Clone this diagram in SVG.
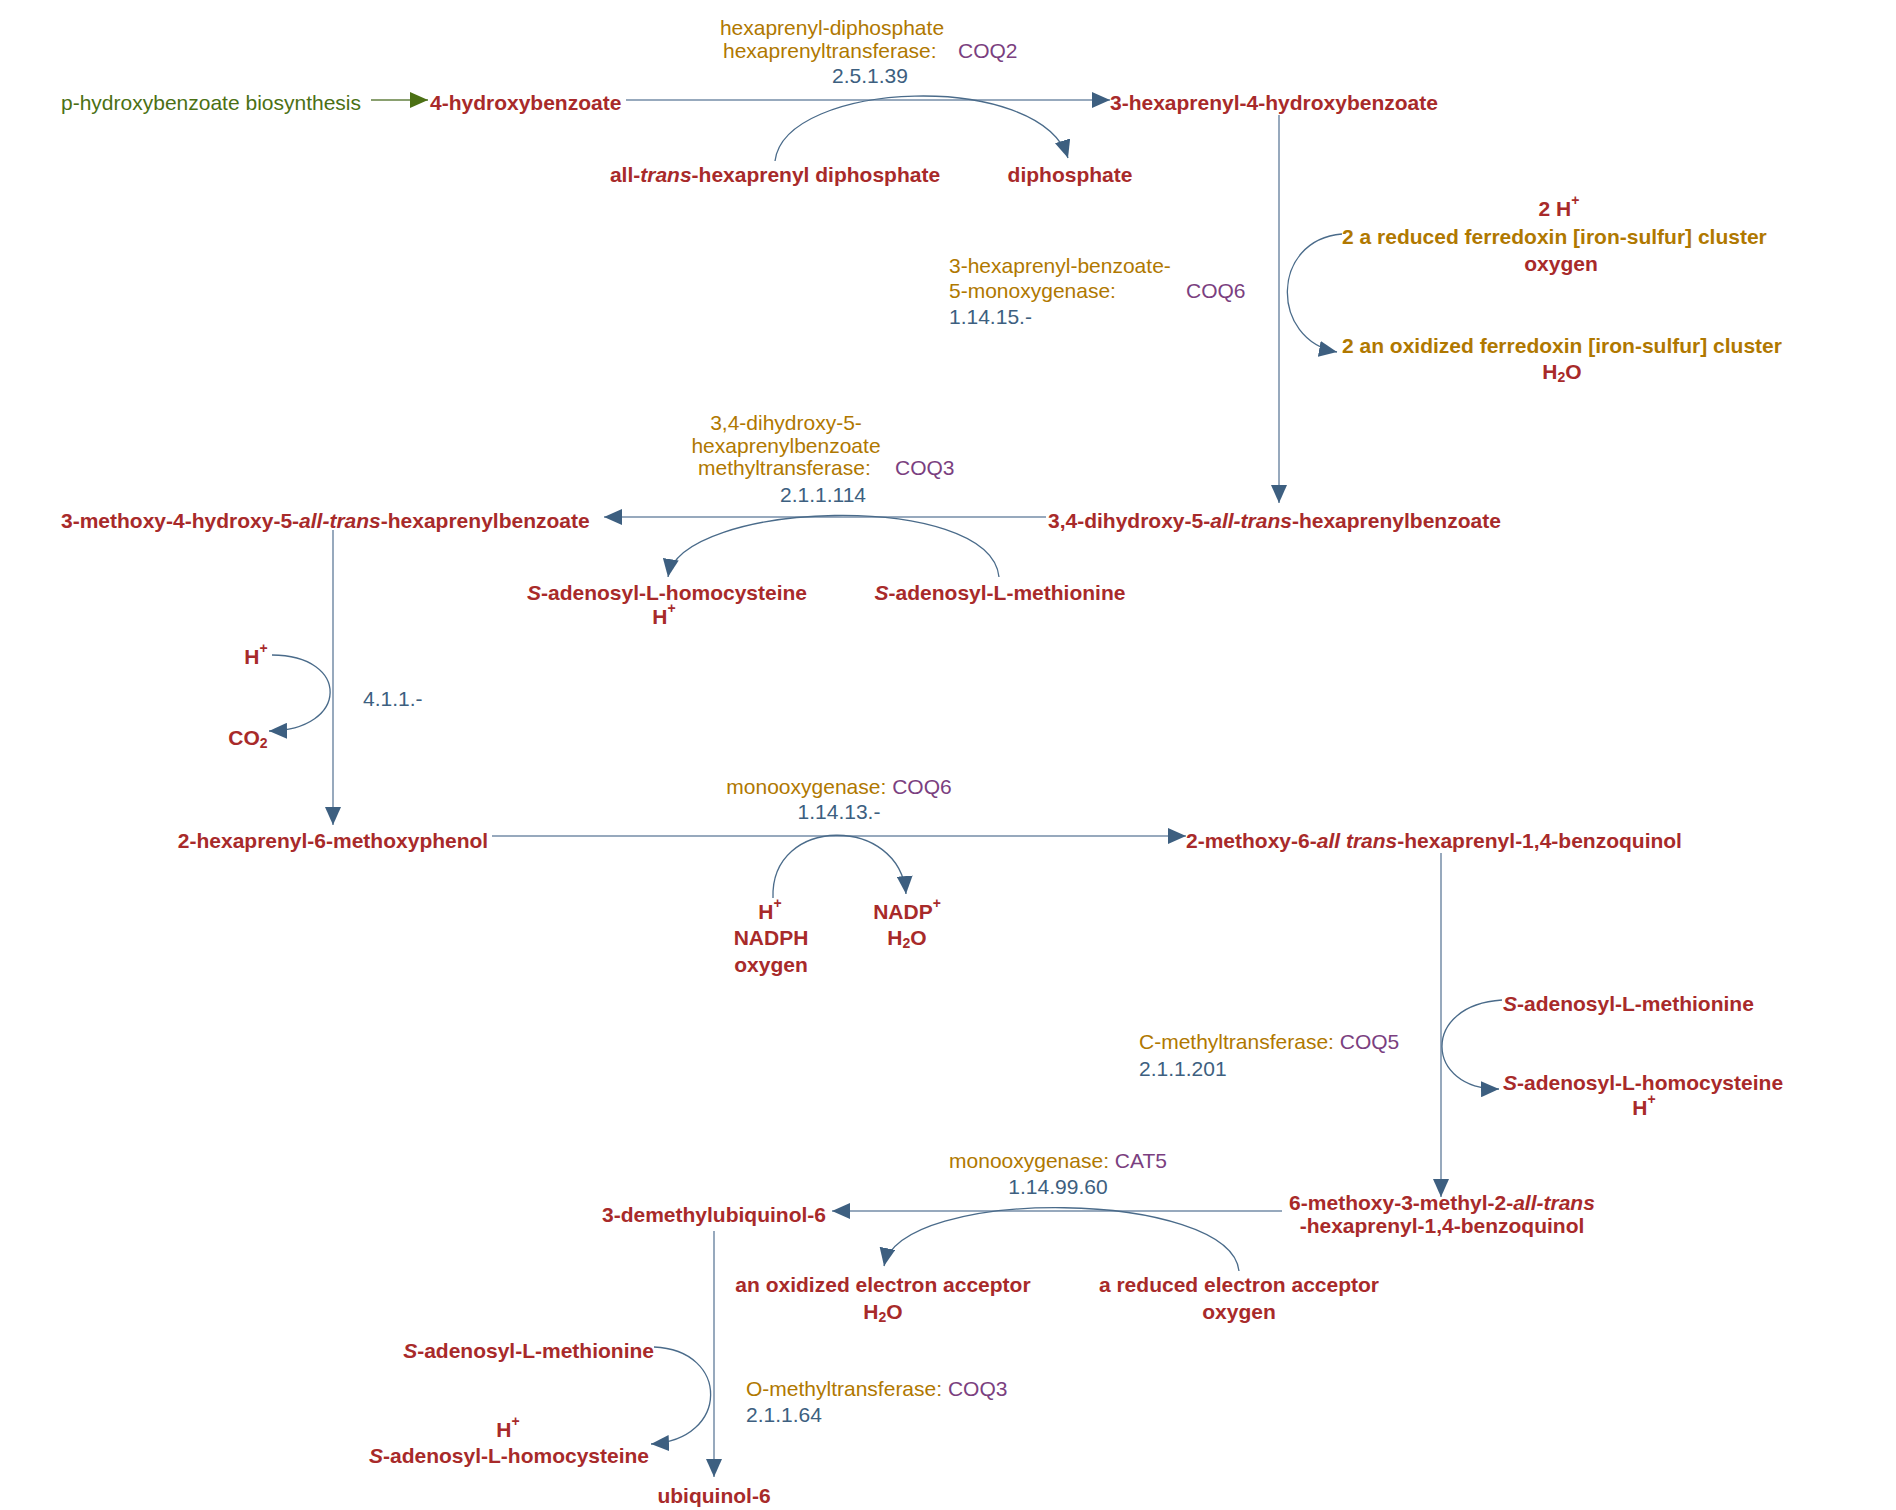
<svg xmlns="http://www.w3.org/2000/svg" width="1896" height="1510" viewBox="0 0 1896 1510">
<style>
text{font-family:"Liberation Sans",Arial,sans-serif;font-size:21px;dominant-baseline:central}
.c{fill:#a82a2a;font-weight:bold}
.g{fill:#b07800}
.gb{fill:#b07800;font-weight:bold}
.p{fill:#7b3f80}
.e{fill:#3d5f80}
.m{text-anchor:middle}
.main{stroke:#97a9bd;stroke-width:2;fill:none}
.side{stroke:#4a6b8a;stroke-width:1.3;fill:none}
</style>
<defs>
<marker id="ah" markerUnits="userSpaceOnUse" markerWidth="20" markerHeight="16" refX="18" refY="8" orient="auto"><path d="M0,0 L18,8 L0,16 Z" fill="#3d5f80"/></marker>
<marker id="ag" markerUnits="userSpaceOnUse" markerWidth="20" markerHeight="16" refX="18" refY="8" orient="auto"><path d="M0,0 L18,8 L0,16 Z" fill="#4b7014"/></marker>
</defs>
<g id="connectors">
<line x1="371" y1="100" x2="428" y2="100" stroke="#8aa070" stroke-width="2" marker-end="url(#ag)"/>
<line class="main" x1="626" y1="100" x2="1110" y2="100" marker-end="url(#ah)"/>
<path class="side" d="M775,161 C785,80 1040,70 1068,158" marker-end="url(#ah)"/>
<line class="main" x1="1279" y1="115" x2="1279" y2="503" marker-end="url(#ah)"/>
<path class="side" d="M1342,234 C1270,240 1270,340 1337,352" marker-end="url(#ah)"/>
<line class="main" x1="1046" y1="517" x2="604" y2="517" marker-end="url(#ah)"/>
<path class="side" d="M999,577 C990,490 680,500 668,577" marker-end="url(#ah)"/>
<line class="main" x1="333" y1="530" x2="333" y2="825" marker-end="url(#ah)"/>
<path class="side" d="M272,655 C350,655 350,730 269,731" marker-end="url(#ah)"/>
<line class="main" x1="492" y1="836" x2="1186" y2="836" marker-end="url(#ah)"/>
<path class="side" d="M773,898 C770,815 900,815 906,894" marker-end="url(#ah)"/>
<line class="main" x1="1441" y1="853" x2="1441" y2="1197" marker-end="url(#ah)"/>
<path class="side" d="M1502,1000 C1420,1005 1425,1090 1499,1089" marker-end="url(#ah)"/>
<line class="main" x1="1282" y1="1211" x2="832" y2="1211" marker-end="url(#ah)"/>
<path class="side" d="M1239,1271 C1230,1190 900,1185 884,1266" marker-end="url(#ah)"/>
<line class="main" x1="714" y1="1231" x2="714" y2="1477" marker-end="url(#ah)"/>
<path class="side" d="M654,1347 C730,1350 730,1440 651,1444" marker-end="url(#ah)"/>
</g>
<g id="n-pre"><text x="61" y="102" fill="#4b7014">p-hydroxybenzoate biosynthesis</text></g>
<g id="n-4hb"><text class="c" x="430" y="102">4-hydroxybenzoate</text></g>
<g id="e1">
<text class="g m" x="832" y="27">hexaprenyl-diphosphate</text>
<text class="g" x="723" y="50">hexaprenyltransferase:</text>
<text class="p" x="958" y="50">COQ2</text>
<text class="e m" x="870" y="75">2.5.1.39</text>
</g>
<g id="n-allhpp"><text class="c m" x="775" y="174">all-<tspan font-style="italic">trans</tspan>-hexaprenyl diphosphate</text></g>
<g id="n-pp"><text class="c m" x="1070" y="174">diphosphate</text></g>
<g id="n-3h4hb"><text class="c" x="1110" y="102">3-hexaprenyl-4-hydroxybenzoate</text></g>
<g id="e2">
<text class="g" x="949" y="265">3-hexaprenyl-benzoate-</text>
<text class="g" x="949" y="290">5-monoxygenase:</text>
<text class="p" x="1186" y="290">COQ6</text>
<text class="e" x="949" y="316">1.14.15.-</text>
</g>
<g id="s2in">
<text class="c m" x="1559" y="208">2 H<tspan dy="-8" font-size="14">+</tspan></text>
<text class="gb" x="1342" y="236">2 a reduced ferredoxin [iron-sulfur] cluster</text>
<text class="c m" x="1561" y="263">oxygen</text>
</g>
<g id="s2out">
<text class="gb" x="1342" y="345">2 an oxidized ferredoxin [iron-sulfur] cluster</text>
<text class="c m" x="1562" y="371">H<tspan dy="6" font-size="14">2</tspan><tspan dy="-6">O</tspan></text>
</g>
<g id="n-34d"><text class="c" x="1048" y="520">3,4-dihydroxy-5-<tspan font-style="italic">all-trans</tspan>-hexaprenylbenzoate</text></g>
<g id="e3">
<text class="g m" x="786" y="422">3,4-dihydroxy-5-</text>
<text class="g m" x="786" y="445">hexaprenylbenzoate</text>
<text class="g" x="698" y="467">methyltransferase:</text>
<text class="p" x="895" y="467">COQ3</text>
<text class="e m" x="823" y="494">2.1.1.114</text>
</g>
<g id="n-3m4h"><text class="c" x="61" y="520">3-methoxy-4-hydroxy-5-<tspan font-style="italic">all-trans</tspan>-hexaprenylbenzoate</text></g>
<g id="s3out">
<text class="c m" x="667" y="592"><tspan font-style="italic">S</tspan>-adenosyl-L-homocysteine</text>
<text class="c m" x="664" y="616">H<tspan dy="-8" font-size="14">+</tspan></text>
</g>
<g id="s3in"><text class="c m" x="1000" y="592"><tspan font-style="italic">S</tspan>-adenosyl-L-methionine</text></g>
<g id="e4"><text class="e" x="363" y="698">4.1.1.-</text></g>
<g id="s4">
<text class="c m" x="256" y="656">H<tspan dy="-8" font-size="14">+</tspan></text>
<text class="c m" x="248" y="737">CO<tspan dy="6" font-size="14">2</tspan></text>
</g>
<g id="n-2h6m"><text class="c m" x="333" y="840">2-hexaprenyl-6-methoxyphenol</text></g>
<g id="e5">
<text class="m" x="839" y="786"><tspan class="g">monooxygenase: </tspan><tspan class="p">COQ6</tspan></text>
<text class="e m" x="839" y="811">1.14.13.-</text>
</g>
<g id="s5in">
<text class="c m" x="770" y="911">H<tspan dy="-8" font-size="14">+</tspan></text>
<text class="c m" x="771" y="937">NADPH</text>
<text class="c m" x="771" y="964">oxygen</text>
</g>
<g id="s5out">
<text class="c m" x="907" y="911">NADP<tspan dy="-8" font-size="14">+</tspan></text>
<text class="c m" x="907" y="937">H<tspan dy="6" font-size="14">2</tspan><tspan dy="-6">O</tspan></text>
</g>
<g id="n-2m6"><text class="c" x="1186" y="840">2-methoxy-6-<tspan font-style="italic">all trans</tspan>-hexaprenyl-1,4-benzoquinol</text></g>
<g id="e6">
<text x="1139" y="1041"><tspan class="g">C-methyltransferase: </tspan><tspan class="p">COQ5</tspan></text>
<text class="e" x="1139" y="1068">2.1.1.201</text>
</g>
<g id="s6in"><text class="c" x="1503" y="1003"><tspan font-style="italic">S</tspan>-adenosyl-L-methionine</text></g>
<g id="s6out">
<text class="c" x="1503" y="1082"><tspan font-style="italic">S</tspan>-adenosyl-L-homocysteine</text>
<text class="c m" x="1644" y="1107">H<tspan dy="-8" font-size="14">+</tspan></text>
</g>
<g id="n-6m3m">
<text class="c m" x="1442" y="1202">6-methoxy-3-methyl-2-<tspan font-style="italic">all-trans</tspan></text>
<text class="c m" x="1442" y="1225">-hexaprenyl-1,4-benzoquinol</text>
</g>
<g id="e7">
<text class="m" x="1058" y="1160"><tspan class="g">monooxygenase: </tspan><tspan class="p">CAT5</tspan></text>
<text class="e m" x="1058" y="1186">1.14.99.60</text>
</g>
<g id="s7out">
<text class="c m" x="883" y="1284">an oxidized electron acceptor</text>
<text class="c m" x="883" y="1311">H<tspan dy="6" font-size="14">2</tspan><tspan dy="-6">O</tspan></text>
</g>
<g id="s7in">
<text class="c m" x="1239" y="1284">a reduced electron acceptor</text>
<text class="c m" x="1239" y="1311">oxygen</text>
</g>
<g id="n-3dmu"><text class="c m" x="714" y="1214">3-demethylubiquinol-6</text></g>
<g id="e8">
<text x="746" y="1388"><tspan class="g">O-methyltransferase: </tspan><tspan class="p">COQ3</tspan></text>
<text class="e" x="746" y="1414">2.1.1.64</text>
</g>
<g id="s8in"><text class="c" x="654" y="1350" text-anchor="end"><tspan font-style="italic">S</tspan>-adenosyl-L-methionine</text></g>
<g id="s8out">
<text class="c m" x="508" y="1429">H<tspan dy="-8" font-size="14">+</tspan></text>
<text class="c m" x="509" y="1455"><tspan font-style="italic">S</tspan>-adenosyl-L-homocysteine</text>
</g>
<g id="n-ubq"><text class="c m" x="714" y="1495">ubiquinol-6</text></g>
</svg>
